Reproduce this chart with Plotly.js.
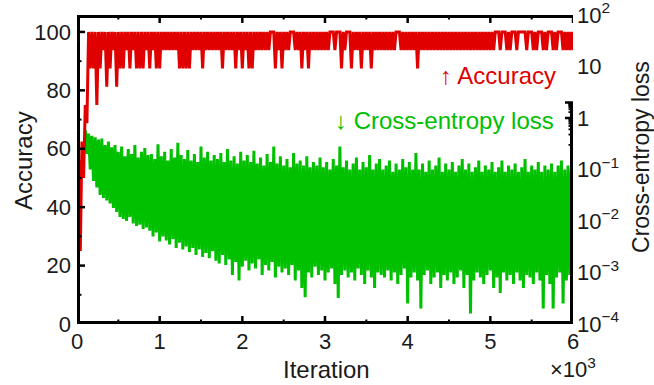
<!DOCTYPE html>
<html>
<head>
<meta charset="utf-8">
<script src="https://cdn.plot.ly/plotly-3.0.1.min.js"></script>
<style>
html,body{margin:0;padding:0;background:#fff;}
#chart{width:654px;height:385px;}
</style>
</head>
<body>
<div id="chart"></div>
<script>
// Iteration tick labels (axis shown in units of 10^3)
const xTickVals = [0, 1000, 2000, 3000, 4000, 5000, 6000];
const xTickText = ['0', '1', '2', '3', '4', '5', '6'];
const accTickVals = [0, 20, 40, 60, 80, 100];
const lossTickVals = [1e-4, 1e-3, 1e-2, 1e-1, 1, 10, 100];
const lossTickText = ['10<sup>\u22124</sup>', '10<sup>\u22123</sup>', '10<sup>\u22122</sup>', '10<sup>\u22121</sup>', '1', '10', '10<sup>2</sup>'];

// Accuracy (%), sampled every 20 iterations from 0 to 6000
const accuracy = [
 18.75,56.25,25,62.5,50,75,68.75,100,87.5,100,
 87.5,100,75,100,87.5,100,93.75,100,81.25,100,
 87.5,100,93.75,100,81.25,100,87.5,100,87.5,100,
 93.75,100,87.5,100,93.75,100,87.5,100,87.5,100,
 87.5,100,93.75,100,87.5,100,93.75,100,87.5,100,
 87.5,100,93.75,100,93.75,100,93.75,100,93.75,100,
 93.75,100,87.5,100,87.5,100,87.5,100,87.5,100,
 93.75,100,93.75,100,93.75,100,87.5,100,93.75,100,
 93.75,100,93.75,100,93.75,100,93.75,100,87.5,100,
 93.75,100,93.75,100,93.75,100,87.5,100,93.75,100,
 87.5,100,93.75,100,87.5,100,87.5,100,93.75,100,
 93.75,100,93.75,100,93.75,100,93.75,100,100,100,
 87.5,100,93.75,100,87.5,100,93.75,100,93.75,100,
 100,100,93.75,100,93.75,100,87.5,100,93.75,100,
 87.5,100,93.75,100,93.75,100,93.75,100,93.75,100,
 93.75,100,93.75,100,100,100,93.75,100,100,100,
 87.5,100,93.75,100,100,100,87.5,100,93.75,100,
 93.75,100,87.5,100,93.75,100,93.75,100,87.5,100,
 93.75,100,93.75,100,93.75,100,93.75,100,93.75,100,
 93.75,100,93.75,100,100,100,93.75,100,93.75,100,
 93.75,100,93.75,100,93.75,100,87.5,100,93.75,100,
 93.75,100,93.75,100,93.75,100,93.75,100,93.75,100,
 93.75,100,93.75,100,93.75,100,93.75,100,93.75,100,
 93.75,100,93.75,100,93.75,100,93.75,100,93.75,100,
 93.75,100,93.75,100,93.75,100,93.75,100,93.75,100,
 93.75,100,93.75,100,100,100,93.75,100,100,100,
 93.75,100,93.75,100,100,100,93.75,100,100,100,
 100,100,93.75,100,100,100,93.75,100,93.75,100,
 100,100,93.75,100,93.75,100,100,100,93.75,100,
 93.75,100,100,100,93.75,100,93.75,100,93.75,100,
 93.75
];

// Cross-entropy loss, sampled every 20 iterations from 100 to 5980
const loss = [
 0.58,0.2, 0.5,0.1, 0.45,0.06, 0.42,0.045, 0.38,0.032, 0.4,0.028, 0.3,0.025, 0.35,0.022, 0.27,0.018, 0.3,0.015,
 0.22,0.012, 0.28,0.011, 0.18,0.01, 0.25,0.012, 0.2,0.009, 0.3,0.008, 0.17,0.0085, 0.22,0.007, 0.26,0.0075, 0.19,0.0065,
 0.2,0.005, 0.16,0.006, 0.31,0.004, 0.18,0.005, 0.22,0.0042, 0.15,0.0035, 0.25,0.0045, 0.17,0.003, 0.33,0.0038, 0.19,0.0028,
 0.16,0.0032, 0.24,0.0025, 0.15,0.003, 0.2,0.0022, 0.14,0.0028, 0.28,0.002, 0.17,0.0024, 0.22,0.0019, 0.15,0.0026, 0.19,0.0017,
 0.16,0.0015, 0.21,0.0022, 0.14,0.0014, 0.25,0.0018, 0.15,0.0009, 0.18,0.0016, 0.13,0.0007, 0.22,0.0013, 0.15,0.0017, 0.19,0.0011,
 0.14,0.0015, 0.23,0.0012, 0.13,0.0018, 0.17,0.0009, 0.12,0.0014, 0.2,0.0011, 0.14,0.0016, 0.28,0.0008, 0.13,0.0013, 0.18,0.001,
 0.12,0.0012, 0.16,0.0009, 0.11,0.0014, 0.21,0.0007, 0.13,0.0011, 0.15,0.0005, 0.12,0.00033, 0.18,0.001, 0.11,0.0008, 0.14,0.0013,
 0.12,0.0009, 0.17,0.0011, 0.11,0.0007, 0.14,0.001, 0.1,0.0012, 0.16,0.0006, 0.12,0.00032, 0.28,0.0009, 0.11,0.0011, 0.15,0.0008,
 0.1,0.001, 0.13,0.0007, 0.17,0.0012, 0.1,0.0009, 0.14,0.0006, 0.11,0.0011, 0.19,0.0008, 0.1,0.0005, 0.13,0.001, 0.16,0.0009,
 0.1,0.0008, 0.12,0.0011, 0.15,0.0007, 0.09,0.001, 0.13,0.0006, 0.1,0.0009, 0.16,0.0012, 0.11,0.00025, 0.14,0.0008, 0.1,0.001,
 0.21,0.0007, 0.1,0.0002, 0.13,0.0009, 0.09,0.0011, 0.15,0.0006, 0.1,0.0008, 0.12,0.001, 0.17,0.0005, 0.09,0.0009, 0.13,0.0007,
 0.1,0.001, 0.14,0.0006, 0.09,0.0008, 0.12,0.0011, 0.16,0.0005, 0.1,0.0009, 0.13,0.00016, 0.09,0.0007, 0.11,0.001, 0.15,0.0008,
 0.09,0.0006, 0.12,0.0009, 0.1,0.0011, 0.14,0.0005, 0.09,0.0008, 0.11,0.0004, 0.15,0.001, 0.09,0.0007, 0.12,0.0009, 0.1,0.0006,
 0.13,0.001, 0.09,0.0007, 0.11,0.0005, 0.16,0.0009, 0.09,0.0008, 0.12,0.0006, 0.1,0.001, 0.14,0.0007, 0.09,0.0002, 0.12,0.0009,
 0.1,0.0006, 0.13,0.0002, 0.09,0.0008, 0.12,0.001, 0.15,0.00025, 0.1,0.0007, 0.12,0.0009, 0.1,0.0006
];

const accIter = accuracy.map((_, i) => 20 * i);
const lossIter = loss.map((_, j) => 100 + 20 * j);

const RED = '#e00000';
const GREEN = '#00c000';
const FONT = '"Liberation Sans", Arial, sans-serif';
const INK = '#1a1a1a';

// minor tick positions (axis decoration only)
const xMinor = [500, 1500, 2500, 3500, 4500, 5500];
const accMinor = [10, 30, 50, 70, 90];
const lossMinor = [];
for (let e = -4; e < 2; e++) for (let m = 2; m <= 9; m++) lossMinor.push(m * Math.pow(10, e));

const X_RANGE = [0, 6000];
const ACC_RANGE = [0, 105.8];
const LOSS_RANGE_LOG = [-4, 2];

const PW = 496, PH = 309; // plot area size in px
const MAJ = 8, MIN = 4.5;
const BW = 3; // frame width
const ex = (BW / 2) / PW, ey = (BW / 2) / PH;

const shapes = [];
// frame edges built from short segments, inset by half the frame width
const NSEG = 24;
for (let s = 0; s < NSEG; s++) {
  const a = X_RANGE[0] + (X_RANGE[1] - X_RANGE[0]) * s / NSEG;
  const b = X_RANGE[0] + (X_RANGE[1] - X_RANGE[0]) * (s + 1.05) / NSEG;
  shapes.push({ type: 'line', xref: 'x', yref: 'paper', x0: a, x1: Math.min(b, X_RANGE[1]), y0: ey, y1: ey, line: { color: 'black', width: BW } });
  shapes.push({ type: 'line', xref: 'x', yref: 'paper', x0: a, x1: Math.min(b, X_RANGE[1]), y0: 1 - ey, y1: 1 - ey, line: { color: 'black', width: BW } });
  const c = ACC_RANGE[0] + (ACC_RANGE[1] - ACC_RANGE[0]) * s / NSEG;
  const d = ACC_RANGE[0] + (ACC_RANGE[1] - ACC_RANGE[0]) * (s + 1.05) / NSEG;
  shapes.push({ type: 'line', xref: 'paper', yref: 'y2', x0: ex, x1: ex, y0: c, y1: Math.min(d, ACC_RANGE[1]), line: { color: 'black', width: BW } });
  const f = LOSS_RANGE_LOG[0] + (LOSS_RANGE_LOG[1] - LOSS_RANGE_LOG[0]) * s / NSEG;
  const g = LOSS_RANGE_LOG[0] + (LOSS_RANGE_LOG[1] - LOSS_RANGE_LOG[0]) * (s + 1.05) / NSEG;
  shapes.push({ type: 'line', xref: 'paper', yref: 'y', x0: 1 - ex, x1: 1 - ex, y0: f, y1: Math.min(g, LOSS_RANGE_LOG[1]), line: { color: 'black', width: BW } });
}
function xTick(v, len, w) {
  shapes.push({ type: 'line', xref: 'x', yref: 'paper', x0: v, x1: v, y0: 0, y1: len / PH, line: { color: 'black', width: w } });
  shapes.push({ type: 'line', xref: 'x', yref: 'paper', x0: v, x1: v, y0: 1, y1: 1 - len / PH, line: { color: 'black', width: w } });
}
xTickVals.forEach(v => xTick(v, MAJ, 2.5));
xMinor.forEach(v => xTick(v, MIN, 2));
function accTick(v, len, w) {
  shapes.push({ type: 'line', xref: 'paper', yref: 'y2', x0: 0, x1: len / PW, y0: v, y1: v, line: { color: 'black', width: w } });
}
accTickVals.forEach(v => accTick(v, MAJ, 2.5));
accMinor.forEach(v => accTick(v, MIN, 2));
function lossTick(v, len, w) {
  const lv = Math.log10(v);
  shapes.push({ type: 'line', xref: 'paper', yref: 'y', x0: 1, x1: 1 - len / PW, y0: lv, y1: lv, line: { color: 'black', width: w } });
}
lossTickVals.forEach(v => lossTick(v, MAJ, 2.5));
lossMinor.forEach(v => lossTick(v, MIN, 1.8));

const traces = [
  { x: lossIter, y: loss, type: 'scatter', mode: 'lines', xaxis: 'x', yaxis: 'y',
    line: { color: GREEN, width: 3 }, hoverinfo: 'skip' },
  { x: accIter, y: accuracy, type: 'scatter', mode: 'lines', xaxis: 'x', yaxis: 'y2',
    line: { color: RED, width: 3 }, hoverinfo: 'skip' }
];

const axisBase = { ticks: '', showline: false, showgrid: false, zeroline: false,
  ticklabeloverflow: 'allow', tickfont: { family: FONT, size: 22, color: INK } };

const layout = {
  width: 654, height: 385,
  margin: { l: 77, r: 81, t: 15, b: 61 },
  paper_bgcolor: 'white', plot_bgcolor: 'white',
  showlegend: false,
  font: { family: FONT, color: INK },
  xaxis: Object.assign({}, axisBase, {
    range: X_RANGE, tickmode: 'array', tickvals: xTickVals, ticktext: xTickText, ticklabelstandoff: 2
  }),
  yaxis: Object.assign({}, axisBase, {
    type: 'log', range: LOSS_RANGE_LOG, side: 'right', anchor: 'x',
    tickmode: 'array', tickvals: lossTickVals, ticktext: lossTickText, ticklabelstandoff: 3
  }),
  yaxis2: Object.assign({}, axisBase, {
    range: ACC_RANGE, side: 'left', overlaying: 'y', anchor: 'x',
    tickmode: 'array', tickvals: accTickVals, ticklabelstandoff: 5
  }),
  shapes: shapes,
  annotations: [
    { text: '\u2191 Accuracy', xref: 'paper', yref: 'paper', x: 0.9698, y: 0.8058,
      xanchor: 'right', yanchor: 'middle', showarrow: false, font: { family: FONT, size: 24, color: RED } },
    { text: '\u2193 Cross-entropy loss', xref: 'paper', yref: 'paper', x: 0.9657, y: 0.657,
      xanchor: 'right', yanchor: 'middle', showarrow: false, font: { family: FONT, size: 24, color: GREEN } },
    { text: 'Accuracy', xref: 'paper', yref: 'paper', x: -0.1089, y: 0.5307, textangle: -90,
      xanchor: 'center', yanchor: 'middle', showarrow: false, font: { family: FONT, size: 24, color: INK } },
    { text: 'Cross-entropy loss', xref: 'paper', yref: 'paper', x: 1.137, y: 0.5405, textangle: -90,
      xanchor: 'center', yanchor: 'middle', showarrow: false, font: { family: FONT, size: 23, color: INK } },
    { text: 'Iteration', xref: 'paper', yref: 'paper', x: 0.504, y: -0.148,
      xanchor: 'center', yanchor: 'middle', showarrow: false, font: { family: FONT, size: 24, color: INK } },
    { text: '\u00d710<sup>3</sup>', xref: 'paper', yref: 'paper', x: 1.0, y: -0.142,
      xanchor: 'center', yanchor: 'middle', showarrow: false, font: { family: FONT, size: 22, color: INK } }
  ]
};

Plotly.newPlot('chart', traces, layout, { displayModeBar: false });
</script>
</body>
</html>
